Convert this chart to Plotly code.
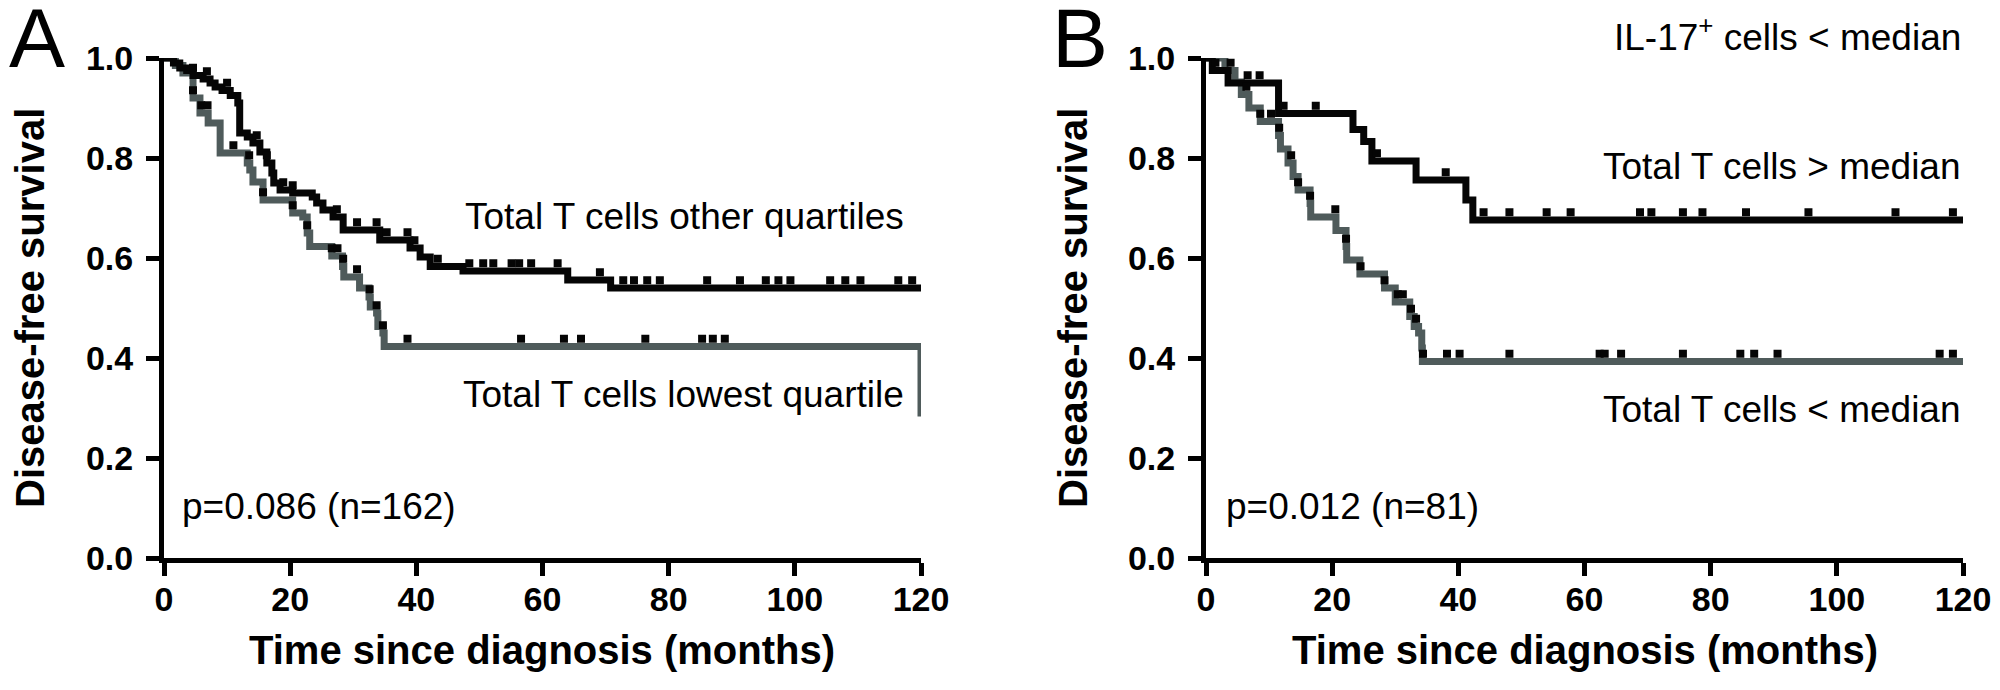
import plotly.graph_objects as go

# ---------------- data ----------------
x_ticks = [0, 20, 40, 60, 80, 100, 120]
y_ticks = [0.0, 0.2, 0.4, 0.6, 0.8, 1.0]
t_end = 120

# Panel A: Total T cells other quartiles (black)
a_hi_t = [1.5, 2.5, 3.6, 4.6, 6.2, 7.3, 8.1, 9.2, 10.5, 11.7, 12.0, 13.2, 14.1, 15.2, 16.3, 17.1,
          17.4, 18.4, 20.4, 23.5, 24.2, 25.2, 26.8, 28.4, 34.2, 39.0, 40.6, 42.2, 47.4, 64.0, 70.8]
a_hi_s = [0.99, 0.98, 0.975, 0.965, 0.958, 0.95, 0.942, 0.935, 0.925, 0.91, 0.85, 0.842, 0.83, 0.812,
          0.79, 0.77, 0.75, 0.736, 0.73, 0.722, 0.71, 0.696, 0.682, 0.656, 0.636, 0.62, 0.602, 0.583,
          0.574, 0.556, 0.54]
a_hi_cens = [2.0, 4.6, 6.8, 10.0, 14.7, 16.3, 18.9, 20.4, 27.4, 30.6, 33.7, 35.3, 38.6, 39.7, 43.4,
             48.4, 50.6, 52.2, 55.1, 56.3, 58.2, 62.4, 69.1, 72.8, 74.5, 76.6, 78.6, 86.1, 91.3, 95.4,
             97.4, 99.3, 105.6, 108.0, 110.4, 116.4, 118.6]

# Panel A: Total T cells lowest quartile (grey)
a_lo_t = [1.8, 3.0, 4.6, 5.7, 7.0, 8.9, 13.2, 13.6, 14.1, 15.7, 20.4, 22.0, 22.7, 23.1, 26.6, 28.3,
          28.5, 31.0, 32.5, 32.7, 33.7, 33.9, 34.7, 34.9, 120.0]
a_lo_s = [0.985, 0.97, 0.92, 0.89, 0.87, 0.81, 0.79, 0.776, 0.752, 0.716, 0.69, 0.682, 0.65, 0.623,
          0.604, 0.583, 0.562, 0.54, 0.522, 0.502, 0.49, 0.463, 0.45, 0.423, 0.283]
a_lo_cens = [4.6, 5.9, 6.9, 11.0, 13.5, 15.7, 20.4, 22.7, 26.6, 27.5, 28.4, 30.6, 32.6, 33.7, 34.7,
             38.6, 56.6, 63.4, 66.1, 76.3, 85.3, 87.0, 88.9]

# Panel B: Total T cells > median (black)
b_hi_t = [1.0, 3.5, 11.5, 23.3, 25.0, 26.3, 33.3, 41.2, 42.3]
b_hi_s = [0.975, 0.95, 0.889, 0.857, 0.833, 0.794, 0.756, 0.716, 0.676]
b_hi_cens = [1.5, 6.6, 8.5, 12.3, 17.4, 27.1, 38.0, 44.0, 48.1, 54.0, 57.8, 68.8, 70.6, 75.6, 78.7,
             85.6, 95.5, 109.3, 118.4]

# Panel B: Total T cells < median (grey)
b_lo_t = [3.0, 4.6, 5.6, 6.8, 8.6, 11.5, 11.8, 13.0, 13.8, 14.6, 16.5, 16.6, 20.6, 22.2, 22.3, 24.4,
          28.3, 30.0, 32.3, 33.0, 33.7, 34.2, 34.3]
b_lo_s = [0.975, 0.952, 0.927, 0.90, 0.873, 0.845, 0.818, 0.79, 0.763, 0.736, 0.709, 0.682, 0.655,
          0.623, 0.596, 0.568, 0.54, 0.512, 0.483, 0.463, 0.45, 0.42, 0.393]
b_lo_cens = [3.9, 6.4, 8.6, 10.3, 11.6, 13.5, 14.6, 16.5, 20.5, 22.2, 24.5, 28.3, 30.4, 31.2, 32.5,
             33.3, 34.4, 38.2, 40.2, 48.1, 62.4, 63.2, 65.8, 75.6, 84.7, 86.9, 90.6, 116.3, 118.4]

# ---------------- style ----------------
FONT = "Liberation Sans, Arial, sans-serif"
BLACK = "#050505"
GREY = "#4f5b5b"
LW = 7
TICK_UP = 0.0155   # lift of censor marks so they sit on top of the curve

# page body has an 8 px margin: figure is placed at (8, 8); keep it inside the window
OFF = 8
W, H = 2000 - 2 * OFF, 690 - 2 * OFF


def px_x(p):
    return (p - OFF) / W


def px_y(p):
    return (H - (p - OFF)) / H


def step_xy(times, surv):
    xs = [0] + list(times) + [t_end]
    ys = [1.0] + list(surv) + [surv[-1]]
    return xs, ys


def surv_at(times, surv, t):
    s = 1.0
    for ti, si in zip(times, surv):
        if ti <= t:
            s = si
    return s


fig = go.Figure()


def add_curve(times, surv, color, xa, ya, name):
    xs, ys = step_xy(times, surv)
    fig.add_trace(go.Scatter(x=xs, y=ys, mode="lines", line=dict(color=color, width=LW, shape="hv"),
                             xaxis=xa, yaxis=ya, name=name, showlegend=False, cliponaxis=False,
                             hoverinfo="skip"))


def add_cens(times, surv, cens, xa, ya):
    cy = [surv_at(times, surv, t) + TICK_UP for t in cens]
    fig.add_trace(go.Scatter(x=cens, y=cy, mode="markers",
                             marker=dict(symbol="square", size=8, color=BLACK, line=dict(width=0)),
                             xaxis=xa, yaxis=ya, showlegend=False, cliponaxis=False, hoverinfo="skip"))


add_curve(a_lo_t, a_lo_s, GREY, "x", "y", "Total T cells lowest quartile")
add_curve(a_hi_t, a_hi_s, BLACK, "x", "y", "Total T cells other quartiles")
add_cens(a_lo_t, a_lo_s, a_lo_cens, "x", "y")
add_cens(a_hi_t, a_hi_s, a_hi_cens, "x", "y")

add_curve(b_lo_t, b_lo_s, GREY, "x2", "y2", "Total T cells < median")
add_curve(b_hi_t, b_hi_s, BLACK, "x2", "y2", "Total T cells > median")
add_cens(b_lo_t, b_lo_s, b_lo_cens, "x2", "y2")
add_cens(b_hi_t, b_hi_s, b_hi_cens, "x2", "y2")

y_dom = [px_y(558), px_y(58)]
xa_dom = [px_x(164), px_x(921)]
xb_dom = [px_x(1206), px_x(1963)]

axis_common = dict(showline=True, linewidth=5, linecolor="black", ticks="outside", ticklen=13,
                   tickwidth=5, tickcolor="black", showgrid=False, zeroline=False, automargin=False,
                   tickfont=dict(family=FONT, size=34, color="black", weight="bold"))

fig.update_layout(
    width=W, height=H, margin=dict(l=0, r=0, t=0, b=0, pad=0, autoexpand=False),
    paper_bgcolor="white", plot_bgcolor="white", showlegend=False,
    xaxis=dict(domain=xa_dom, range=[0, 120], tickvals=x_ticks, anchor="y",
               ticklabelstandoff=-6, **axis_common),
    yaxis=dict(domain=y_dom, range=[0, 1], tickvals=y_ticks, tickformat=".1f", anchor="x",
               ticklabelstandoff=6, **axis_common),
    xaxis2=dict(domain=xb_dom, range=[0, 120], tickvals=x_ticks, anchor="y2",
                ticklabelstandoff=-6, **axis_common),
    yaxis2=dict(domain=y_dom, range=[0, 1], tickvals=y_ticks, tickformat=".1f", anchor="x2",
                ticklabelstandoff=6, **axis_common),
)

reg = dict(family=FONT, size=37, color="black")
bold = dict(family=FONT, size=40, color="black", weight="bold")
letter = dict(family=FONT, size=84, color="black")

ann = [
    # panel letters
    dict(text="A", xref="paper", yref="paper", x=px_x(7), y=px_y(38), xanchor="left",
         yanchor="middle", font=letter),
    dict(text="B", xref="paper", yref="paper", x=px_x(1050), y=px_y(38), xanchor="left",
         yanchor="middle", font=letter),
    # axis titles
    dict(text="Disease-free survival", xref="paper", yref="paper", x=px_x(30), y=px_y(308),
         textangle=-90, xanchor="center", yanchor="middle", font=bold),
    dict(text="Disease-free survival", xref="paper", yref="paper", x=px_x(1073), y=px_y(308),
         textangle=-90, xanchor="center", yanchor="middle", font=bold),
    dict(text="Time since diagnosis (months)", xref="paper", yref="paper", x=px_x(542),
         y=px_y(650), xanchor="center", yanchor="middle", font=bold),
    dict(text="Time since diagnosis (months)", xref="paper", yref="paper", x=px_x(1585),
         y=px_y(650), xanchor="center", yanchor="middle", font=bold),
    # panel A labels
    dict(text="Total T cells other quartiles", xref="x", yref="y", x=117.6, y=0.684,
         xanchor="right", yanchor="middle", font=reg),
    dict(text="Total T cells lowest quartile", xref="x", yref="y", x=117.6, y=0.327,
         xanchor="right", yanchor="middle", font=reg),
    dict(text="p=0.086 (n=162)", xref="x", yref="y", x=2.6, y=0.104,
         xanchor="left", yanchor="middle", font=reg),
    # panel B labels
    dict(text="IL-17<sup>+</sup> cells &lt; median", xref="x2", yref="paper", x=120, y=px_y(34),
         xanchor="right", yanchor="middle", font=reg),
    dict(text="Total T cells &gt; median", xref="x2", yref="y2", x=120, y=0.784,
         xanchor="right", yanchor="middle", font=reg),
    dict(text="Total T cells &lt; median", xref="x2", yref="y2", x=120, y=0.297,
         xanchor="right", yanchor="middle", font=reg),
    dict(text="p=0.012 (n=81)", xref="x2", yref="y2", x=2.8, y=0.104,
         xanchor="left", yanchor="middle", font=reg),
]
for a in ann:
    a["showarrow"] = False
fig.update_layout(annotations=ann)

fig.write_html("out.html")
